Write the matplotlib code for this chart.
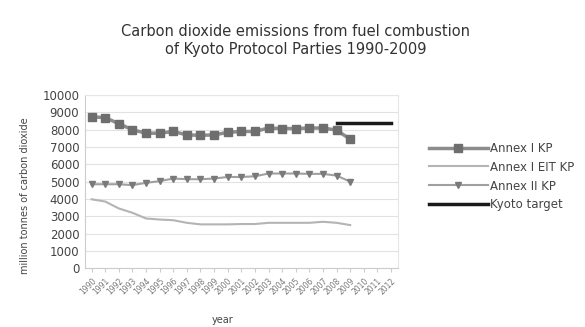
import numpy as np
import matplotlib.pyplot as plt

# CO2 from fuel combustion, million tonnes, 1990-2009; target covers 2008-2012
years = [str(y) for y in range(1990, 2013)]
annex1_kp = [8750, 8700, 8350, 8000, 7800, 7800, 7900, 7700, 7680, 7700,
             7850, 7900, 7900, 8100, 8070, 8070, 8100, 8100, 7980, 7450]
annex1_eit_kp = [3980, 3850, 3450, 3200, 2870, 2810, 2770, 2620, 2530, 2530,
                 2530, 2550, 2550, 2620, 2620, 2620, 2620, 2680, 2620, 2490]
annex2_kp = [4850, 4850, 4850, 4800, 4930, 5030, 5180, 5140, 5140, 5180,
             5270, 5270, 5310, 5470, 5470, 5470, 5450, 5450, 5350, 5000]
kyoto_target = [8370, 8370, 8370, 8370, 8370]

x = np.arange(len(years))
n = len(annex1_kp)

fig = plt.figure(figsize=(5.85, 3.27), dpi=100)
ax = fig.add_axes([0.145, 0.18, 0.535, 0.529])

ax.plot(x[:n], annex1_kp, color='#8c8c8c', lw=2.5, marker='s', ms=5.5,
        mfc='#6e6e6e', mec='#6e6e6e', label='Annex I KP')
ax.plot(x[:n], annex1_eit_kp, color='#b4b4b4', lw=1.5, label='Annex I EIT KP')
ax.plot(x[:n], annex2_kp, color='#a0a0a0', lw=1.5, marker='v', ms=4.8,
        mfc='#7a7a7a', mec='#7a7a7a', label='Annex II KP')
ax.plot(x[18:], kyoto_target, color='#1a1a1a', lw=2.5, label='Kyoto target')

ax.set_xlim(-0.5, len(years) - 0.5)
ax.set_ylim(0, 10000)
ax.set_yticks(np.arange(0, 10001, 1000))
ax.set_xticks(x)
ax.set_xticklabels(years, rotation=45, ha='right', rotation_mode='anchor',
                   fontsize=5.5, color='#777777')
ax.tick_params(axis='y', labelsize=8.5, colors='#444444', length=0, pad=4)
ax.tick_params(axis='x', length=3, color='#cccccc', pad=3)
ax.grid(axis='y', color='#e2e2e2', lw=0.8)
ax.set_axisbelow(True)
for side in ['top', 'right']:
    ax.spines[side].set_color('#e6e6e6')
for side in ['left', 'bottom']:
    ax.spines[side].set_color('#cccccc')

ax.set_ylabel('million tonnes of carbon dioxide', fontsize=7, color='#444444')
ax.yaxis.set_label_coords(-0.175, 0.42)
ax.set_xlabel('year', fontsize=7, color='#444444')
ax.xaxis.set_label_coords(0.44, -0.27)

fig.text(0.505, 0.877, 'Carbon dioxide emissions from fuel combustion\nof Kyoto Protocol Parties 1990-2009',
         ha='center', va='center', fontsize=10.5, color='#333333', linespacing=1.25)

fig.legend(loc='center left', bbox_to_anchor=(0.715, 0.46), frameon=False,
           fontsize=8.5, handlelength=5.0, handletextpad=0.2, labelspacing=0.5,
           labelcolor='#444444')

fig.savefig('out.png', dpi=100)
